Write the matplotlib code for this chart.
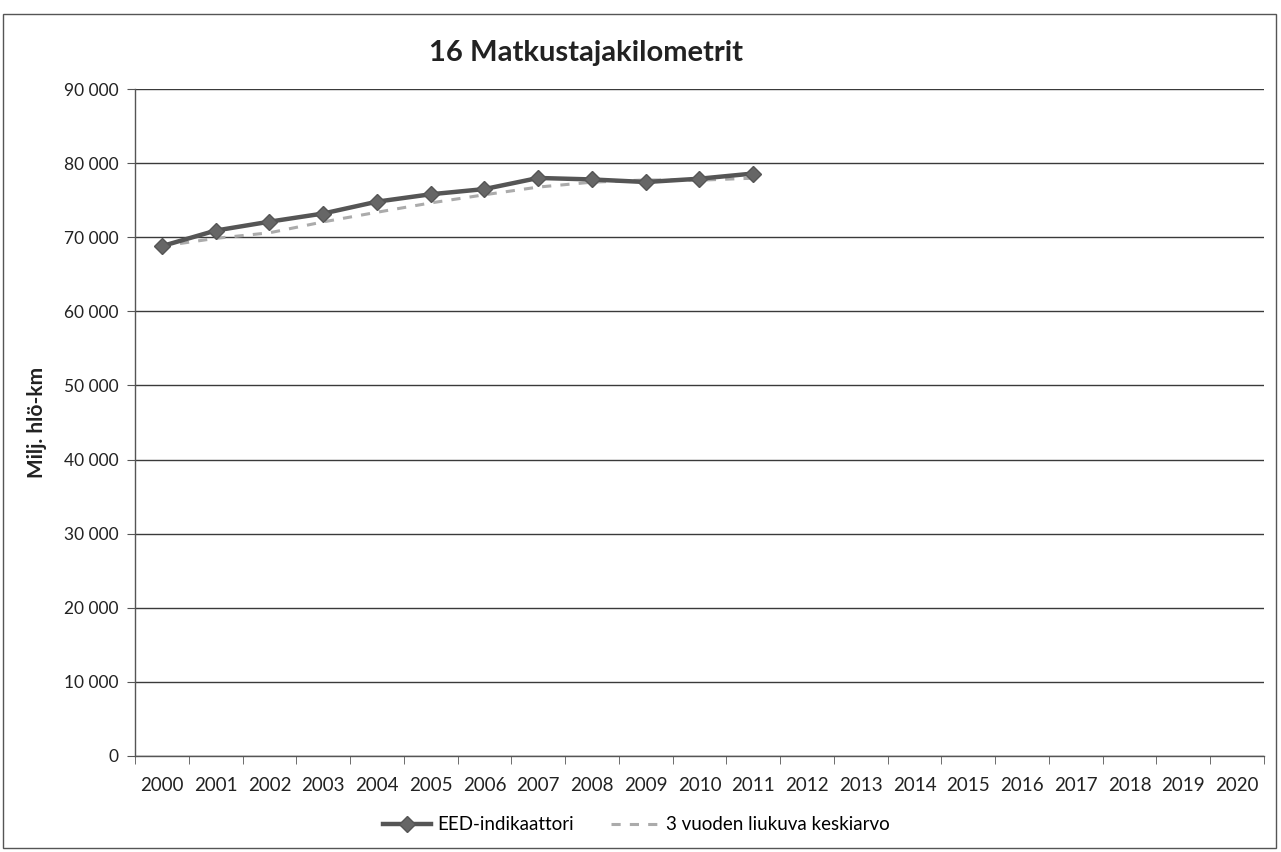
import matplotlib
matplotlib.use("Agg")
import matplotlib.pyplot as plt
from matplotlib.patches import Rectangle
from matplotlib.ticker import FuncFormatter, MultipleLocator

plt.rcParams['font.family'] = ['Lato', 'DejaVu Sans']

years = [str(y) for y in range(2000, 2021)]
eed_years = list(range(2000, 2012))
eed_values = [68800, 70900, 72100, 73200, 74800, 75800, 76500, 78000, 77800, 77450, 77900, 78600]
avg_values = [68800, 69850, 70600, 72070, 73370, 74630, 75730, 76770, 77430, 77730, 77700, 77970]
title = "16 Matkustajakilometrit"
ylabel = "Milj. hlö-km"
legend_labels = ["EED-indikaattori", "3 vuoden liukuva keskiarvo"]

fig = plt.figure(figsize=(12.81, 8.52), dpi=100)
ax = fig.add_axes([0.1054, 0.1127, 0.8813, 0.7828])

xi = [y - 2000 for y in eed_years]
ax.plot(xi, avg_values, color='#ababab', lw=2.2, ls=(0, (3, 3)), zorder=3,
        label=legend_labels[1])
ax.plot(xi, eed_values, color='#555555', lw=3.2, marker='D', markersize=8.5,
        markerfacecolor='#666666', markeredgecolor='#555555', zorder=4,
        label=legend_labels[0])

ax.set_xlim(-0.5, len(years) - 0.5)
ax.set_ylim(0, 90000)
ax.yaxis.set_major_locator(MultipleLocator(10000))
ax.yaxis.set_major_formatter(FuncFormatter(lambda v, p: f"{int(v):,}".replace(",", " ")))
ax.grid(axis='y', color='#3a3a3a', lw=1)
ax.set_axisbelow(True)

ax.set_xticks(range(len(years)))
ax.set_xticklabels(years)
ax.set_xticks([i - 0.5 for i in range(len(years) + 1)], minor=True)
ax.tick_params(axis='x', which='major', length=0, pad=15, labelsize=13.5, colors='#222222')
ax.tick_params(axis='x', which='minor', length=6, color='#555555')
ax.tick_params(axis='y', which='major', length=6, color='#555555', labelsize=12.5,
               labelcolor='#222222', pad=6)

for s in ['top', 'right']:
    ax.spines[s].set_visible(False)
for s in ['left', 'bottom']:
    ax.spines[s].set_color('#555555')
    ax.spines[s].set_linewidth(1)

ax.set_ylabel(ylabel, fontsize=15, fontweight='bold', labelpad=12, color='#222222')
fig.text(586 / 1281, 1 - 53 / 852, title, ha='center', va='center',
         fontsize=21, fontweight='bold', color='#222222')

handles, labels = ax.get_legend_handles_labels()
leg = fig.legend(handles[::-1], labels[::-1], loc='center', ncol=2,
                 bbox_to_anchor=(636 / 1281, 1 - 825 / 852), frameon=False,
                 fontsize=13.5, handlelength=2.6, handletextpad=0.3,
                 columnspacing=2.0)

fig.patches.append(Rectangle((3 / 1281, 0.005), 1 - 8 / 1281, 1 - 18 / 852,
                             transform=fig.transFigure, fill=False,
                             edgecolor='#555555', lw=1))

fig.savefig("out.png", dpi=100)
